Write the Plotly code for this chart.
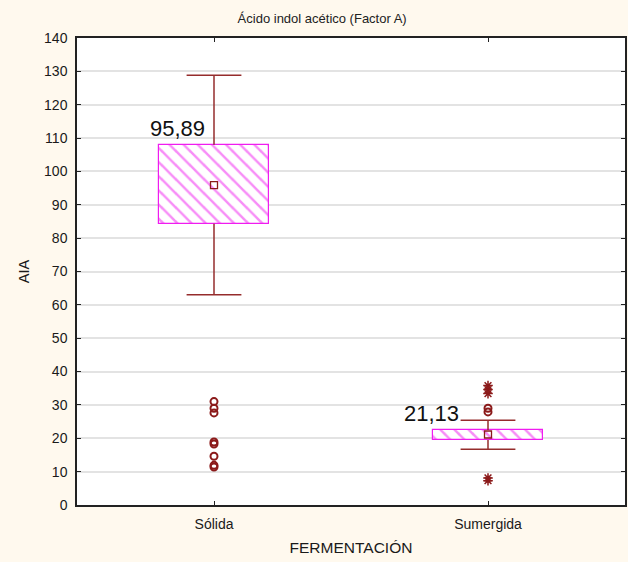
import plotly.graph_objects as go

categories = ["Sólida", "Sumergida"]
q1 = [84.3, 19.5]
center = [95.89, 21.13]
q3 = [108.0, 22.5]
whisk_low = [63.0, 16.7]
whisk_high = [128.8, 25.4]
center_labels = ["95,89", "21,13"]
outliers_sol = [31.0, 29.0, 27.6, 18.9, 18.3, 14.6, 11.9, 11.4]
outliers_sum = [29.0, 27.9]
extremes_sum = [35.8, 34.6, 33.4, 8.1, 7.3]

DARK = "#8b1a1a"
WHISK = "#952c2c"
MAG = "#f01cf0"
box_w = 0.40
cap_half = 0.10
xs = list(range(len(categories)))

fig = go.Figure()

# boxes (hatched)
fig.add_trace(go.Bar(
    x=xs, y=[h - l for h, l in zip(q3, q1)], base=q1, width=box_w,
    marker=dict(color="white", line=dict(color=MAG, width=1.2),
                pattern=dict(shape="\\", fgcolor=MAG, bgcolor="white", size=10, solidity=0.25)),
    hoverinfo="skip", showlegend=False))

# whiskers
wx, wy = [], []
for i in xs:
    wx += [i, i, None, i, i, None, i - cap_half, i + cap_half, None, i - cap_half, i + cap_half, None]
    wy += [q3[i], whisk_high[i], None, q1[i], whisk_low[i], None,
           whisk_high[i], whisk_high[i], None, whisk_low[i], whisk_low[i], None]
fig.add_trace(go.Scatter(x=wx, y=wy, mode="lines", line=dict(color=WHISK, width=1.5),
                         hoverinfo="skip", showlegend=False))

# center markers
fig.add_trace(go.Scatter(x=xs, y=center, mode="markers",
                         marker=dict(symbol="square-open", size=7, color=DARK, line=dict(width=1.3)),
                         showlegend=False))

# outliers
fig.add_trace(go.Scatter(x=[0] * len(outliers_sol) + [1] * len(outliers_sum),
                         y=outliers_sol + outliers_sum, mode="markers",
                         marker=dict(symbol="circle-open", size=7, color=DARK, line=dict(width=2)),
                         showlegend=False))
fig.add_trace(go.Scatter(x=[1] * len(extremes_sum), y=extremes_sum, mode="markers",
                         marker=dict(symbol="asterisk-open", size=8, color=DARK, line=dict(width=1.5)),
                         showlegend=False))

shifts = [-7, -27]
for i in xs:
    fig.add_annotation(x=i, y=q3[i], text=center_labels[i], showarrow=False,
                       xanchor="right", yanchor="bottom", xshift=shifts[i], yshift=2,
                       font=dict(family="Arial, Liberation Sans", size=22, color="#111"))

fig.update_layout(
    width=628, height=562,
    margin=dict(l=77, r=1, t=38, b=57),
    paper_bgcolor="#FFF9EE", plot_bgcolor="white",
    font=dict(family="Arial, Liberation Sans", size=14, color="#1a1a1a"),
    title=dict(text="Ácido indol acético (Factor A)", x=0.513, xanchor="center",
               y=0.968, yanchor="middle",
               font=dict(family="Arial, Liberation Sans", size=13, color="#222")),
    bargap=0,
)
fig.update_xaxes(range=[-0.5, 1.5], tickvals=xs, ticktext=categories,
                 showline=True, linecolor="#222", linewidth=1.5, mirror="ticks",
                 ticks="inside", ticklen=4, tickcolor="#222", showgrid=False, zeroline=False,
                 ticklabelstandoff=5,
                 title=dict(text="FERMENTACIÓN", standoff=12,
                            font=dict(family="Arial, Liberation Sans", size=15.5, color="#1a1a1a")),
                 fixedrange=True)
fig.update_yaxes(range=[0, 140], dtick=10,
                 showline=True, linecolor="#222", linewidth=1.5, mirror="ticks",
                 ticks="inside", ticklen=4, tickcolor="#222",
                 showgrid=True, gridcolor="#e3e3e3", gridwidth=1.5, zeroline=False,
                 ticklabelstandoff=5,
                 title=dict(text="AIA", standoff=11,
                            font=dict(family="Arial, Liberation Sans", size=14.5, color="#1a1a1a")),
                 fixedrange=True)

fig.write_html("out.html")
